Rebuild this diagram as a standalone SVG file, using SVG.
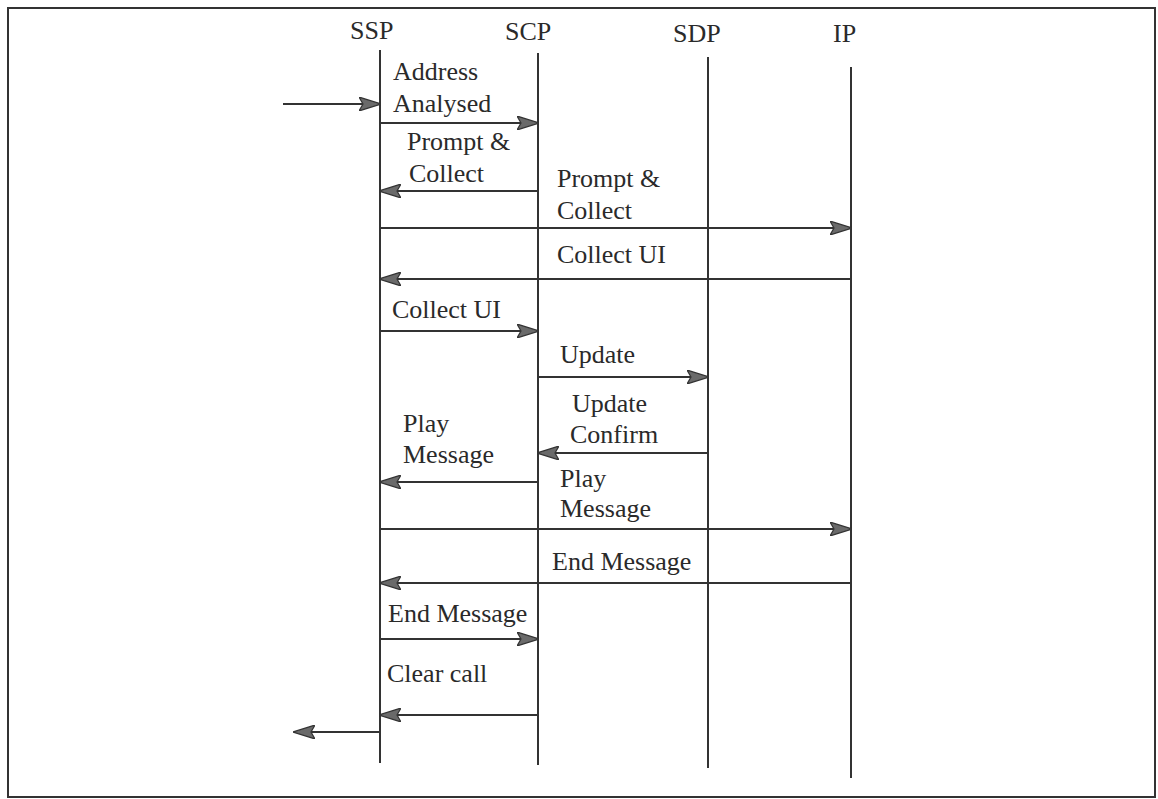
<svg xmlns="http://www.w3.org/2000/svg" width="1158" height="799" viewBox="0 0 1158 799">
<style>
text{font-family:'Liberation Serif','DejaVu Serif',serif;font-size:26px;fill:#2a2a2a}
.life{stroke:#333;stroke-width:2;fill:none}
.msg{stroke:#333;stroke-width:2.2;fill:none;marker-end:url(#ah)}
</style>
<defs>
<marker id="ah" viewBox="0 0 22 14" refX="21" refY="7" markerWidth="22" markerHeight="14" markerUnits="userSpaceOnUse" orient="auto">
<path d="M0,0 L22,7 L0,14 L4,7 Z" fill="#6a6a6a" stroke="#333" stroke-width="1.2"/>
</marker>
</defs>
<rect x="0" y="0" width="1158" height="799" fill="#fff"/>
<rect x="8" y="8" width="1147" height="789" fill="none" stroke="#333" stroke-width="2"/>
<g id="SSP">
<text x="350" y="39" font-family="Liberation Serif, serif">SSP</text>
<line class="life" x1="380" y1="50" x2="380" y2="763"/>
</g>
<g id="SCP">
<text x="505" y="40" font-family="Liberation Serif, serif">SCP</text>
<line class="life" x1="538" y1="53" x2="538" y2="765"/>
</g>
<g id="SDP">
<text x="673" y="42" font-family="Liberation Serif, serif">SDP</text>
<line class="life" x1="708" y1="57" x2="708" y2="768"/>
</g>
<g id="IP">
<text x="833" y="42" font-family="Liberation Serif, serif">IP</text>
<line class="life" x1="851" y1="67" x2="851" y2="778"/>
</g>
<g id="connectors">
<line class="msg" x1="283" y1="104" x2="380" y2="104"/>
<line class="msg" x1="380" y1="123" x2="538" y2="123"/>
<line class="msg" x1="538" y1="191" x2="380" y2="191"/>
<line class="msg" x1="380" y1="228" x2="851" y2="228"/>
<line class="msg" x1="851" y1="279" x2="380" y2="279"/>
<line class="msg" x1="380" y1="331" x2="538" y2="331"/>
<line class="msg" x1="538" y1="377" x2="708" y2="377"/>
<line class="msg" x1="708" y1="453" x2="538" y2="453"/>
<line class="msg" x1="538" y1="482" x2="380" y2="482"/>
<line class="msg" x1="380" y1="529" x2="851" y2="529"/>
<line class="msg" x1="851" y1="583" x2="380" y2="583"/>
<line class="msg" x1="380" y1="639" x2="538" y2="639"/>
<line class="msg" x1="538" y1="715" x2="380" y2="715"/>
<line class="msg" x1="380" y1="732" x2="294" y2="732"/>
</g>
<g id="labels" font-family="Liberation Serif, serif">
<text x="393" y="80">Address</text>
<text x="393" y="112">Analysed</text>
<text x="407" y="150">Prompt &amp;</text>
<text x="409" y="182">Collect</text>
<text x="557" y="187">Prompt &amp;</text>
<text x="557" y="219">Collect</text>
<text x="557" y="263">Collect UI</text>
<text x="392" y="318">Collect UI</text>
<text x="560" y="363">Update</text>
<text x="572" y="412">Update</text>
<text x="570" y="443">Confirm</text>
<text x="403" y="432">Play</text>
<text x="403" y="463">Message</text>
<text x="560" y="487">Play</text>
<text x="560" y="517">Message</text>
<text x="552" y="570">End Message</text>
<text x="388" y="622">End Message</text>
<text x="387" y="682">Clear call</text>
</g>
</svg>
